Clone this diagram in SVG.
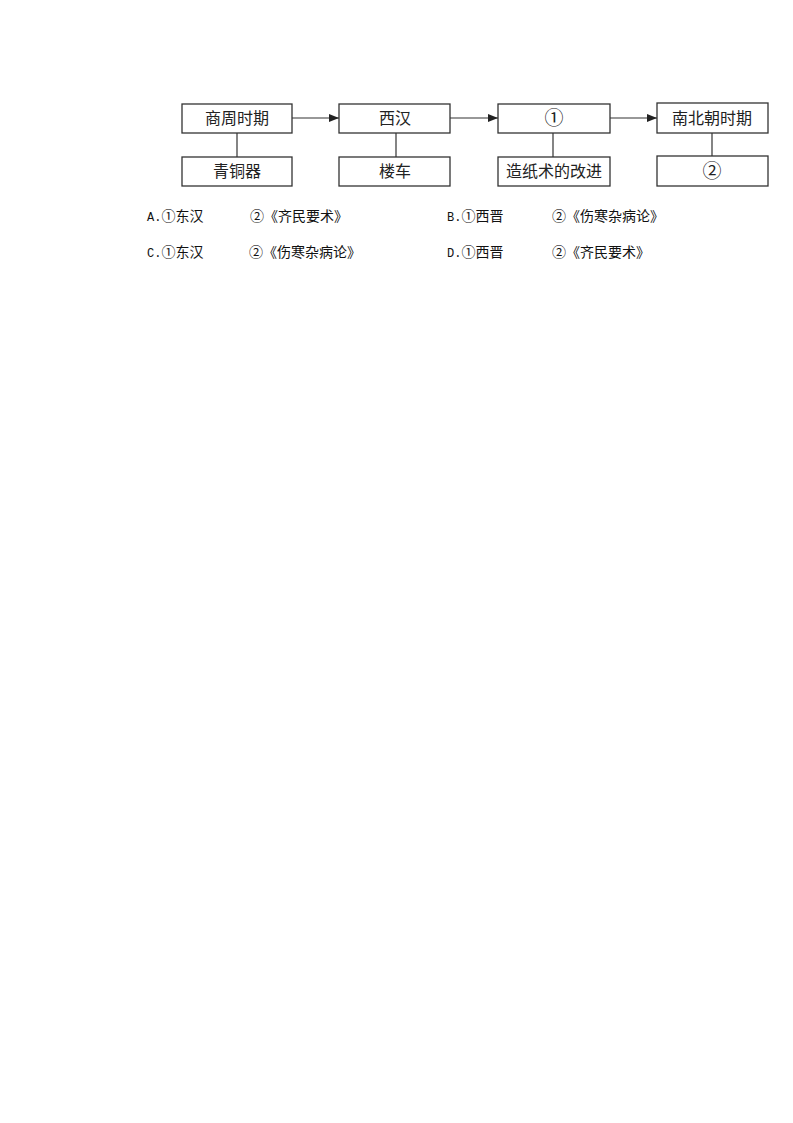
<svg xmlns="http://www.w3.org/2000/svg" width="793" height="1123" viewBox="0 0 793 1123">
<defs>
<marker id="ah" markerWidth="10" markerHeight="8" refX="10" refY="4" orient="auto" markerUnits="userSpaceOnUse">
<path d="M0,0 L10,4 L0,8 Z" fill="#222"/>
</marker>
<style>
.box{fill:#fff;stroke:#333;stroke-width:1.3}
.lbl{font-family:"Liberation Serif","Noto Sans CJK SC",serif;font-size:16px;fill:#222;text-anchor:middle}
.num{font-family:"Noto Sans CJK SC",sans-serif;font-size:19px}
.line{stroke:#333;stroke-width:1.2;fill:none}
.opt{font-family:"Liberation Serif","Noto Sans CJK SC",serif;font-size:14px;fill:#111}
.lat{font-family:"Liberation Mono",monospace;font-size:12px}
</style>
</defs>
<rect width="793" height="1123" fill="#fff"/>
<g id="connectors">
<line class="line" x1="292" y1="118" x2="339" y2="118" marker-end="url(#ah)"/>
<line class="line" x1="450" y1="118" x2="498" y2="118" marker-end="url(#ah)"/>
<line class="line" x1="610" y1="118" x2="657" y2="118" marker-end="url(#ah)"/>
<line class="line" x1="237" y1="133" x2="237" y2="157"/>
<line class="line" x1="396" y1="133" x2="396" y2="157"/>
<line class="line" x1="553" y1="133" x2="553" y2="157"/>
<line class="line" x1="712" y1="133" x2="712" y2="156"/>
</g>
<g id="n1"><rect class="box" x="182" y="104" width="110" height="29"/><text class="lbl" x="237" y="124">商周时期</text></g>
<g id="n2"><rect class="box" x="339" y="104" width="111" height="29"/><text class="lbl" x="395" y="124">西汉</text></g>
<g id="n3"><rect class="box" x="498" y="104" width="112" height="29"/><text class="lbl num" x="554" y="125">①</text></g>
<g id="n4"><rect class="box" x="657" y="103" width="111" height="30"/><text class="lbl" x="712" y="124">南北朝时期</text></g>
<g id="n5"><rect class="box" x="182" y="157" width="110" height="29"/><text class="lbl" x="237" y="177">青铜器</text></g>
<g id="n6"><rect class="box" x="339" y="157" width="111" height="29"/><text class="lbl" x="395" y="177">楼车</text></g>
<g id="n7"><rect class="box" x="498" y="157" width="112" height="29"/><text class="lbl" x="554" y="177">造纸术的改进</text></g>
<g id="n8"><rect class="box" x="657" y="156" width="111" height="30"/><text class="lbl num" x="712" y="178">②</text></g>
<g id="options">
<text class="opt" x="147" y="221"><tspan class="lat">A.</tspan>①东汉</text>
<text class="opt" x="250" y="221">②《齐民要术》</text>
<text class="opt" x="447" y="221"><tspan class="lat">B.</tspan>①西晋</text>
<text class="opt" x="552" y="221">②《伤寒杂病论》</text>
<text class="opt" x="147" y="257"><tspan class="lat">C.</tspan>①东汉</text>
<text class="opt" x="249" y="257">②《伤寒杂病论》</text>
<text class="opt" x="447" y="257"><tspan class="lat">D.</tspan>①西晋</text>
<text class="opt" x="552" y="257">②《齐民要术》</text>
</g>
</svg>
